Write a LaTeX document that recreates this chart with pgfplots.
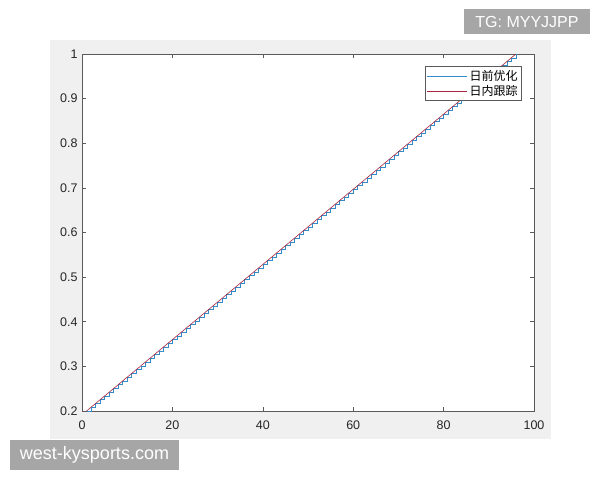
\documentclass[border=0pt]{standalone}
\usepackage{pgfplots}
\usepackage{pgfplotstable}
\pgfplotsset{compat=1.18}
\usepackage{fontspec}
\setmainfont{Liberation Sans}
\newfontfamily\cjk{Noto Sans CJK SC}
\definecolor{mblue}{rgb}{0.2,0.55,0.78}
\definecolor{mred}{rgb}{0.66,0.15,0.25}
\definecolor{panel}{RGB}{240,240,240}
\definecolor{wm}{RGB}{166,166,166}
\definecolor{axc}{RGB}{90,90,90}
\definecolor{txt}{RGB}{38,38,38}
\pgfplotstableread{
x y
1 0.2000
2 0.2084
3 0.2168
4 0.2253
5 0.2337
6 0.2421
7 0.2505
8 0.2589
9 0.2674
10 0.2758
11 0.2842
12 0.2926
13 0.3011
14 0.3095
15 0.3179
16 0.3263
17 0.3347
18 0.3432
19 0.3516
20 0.3600
21 0.3684
22 0.3768
23 0.3853
24 0.3937
25 0.4021
26 0.4105
27 0.4189
28 0.4274
29 0.4358
30 0.4442
31 0.4526
32 0.4611
33 0.4695
34 0.4779
35 0.4863
36 0.4947
37 0.5032
38 0.5116
39 0.5200
40 0.5284
41 0.5368
42 0.5453
43 0.5537
44 0.5621
45 0.5705
46 0.5789
47 0.5874
48 0.5958
49 0.6042
50 0.6126
51 0.6211
52 0.6295
53 0.6379
54 0.6463
55 0.6547
56 0.6632
57 0.6716
58 0.6800
59 0.6884
60 0.6968
61 0.7053
62 0.7137
63 0.7221
64 0.7305
65 0.7389
66 0.7474
67 0.7558
68 0.7642
69 0.7726
70 0.7811
71 0.7895
72 0.7979
73 0.8063
74 0.8147
75 0.8232
76 0.8316
77 0.8400
78 0.8484
79 0.8568
80 0.8653
81 0.8737
82 0.8821
83 0.8905
84 0.8989
85 0.9074
86 0.9158
87 0.9242
88 0.9326
89 0.9411
90 0.9495
91 0.9579
92 0.9663
93 0.9747
94 0.9832
95 0.9916
96 1.0000
}\data
\begin{document}
\begin{tikzpicture}
\useasboundingbox (0pt,0pt) rectangle (600pt,480pt);
\fill[white] (0pt,0pt) rectangle (600pt,480pt);
\fill[panel] (50pt,41pt) rectangle (551pt,440pt);
\begin{axis}[
  at={(82pt,69pt)}, anchor=south west,
  width=452pt, height=357pt, scale only axis,
  xmin=0, xmax=100, ymin=0.2, ymax=1,
  xtick={0,20,...,100},
  ytick={0.2,0.3,...,1.0},
  yticklabels={0.2,0.3,0.4,0.5,0.6,0.7,0.8,0.9,1},
  tick align=inside,
  major tick length=4pt,
  axis line style={axc, line width=0.8pt},
  tick style={axc, line width=0.6pt},
  ticklabel style={font=\fontsize{12.5}{14}\selectfont, text=txt},
  /pgf/number format/assume math mode=true,
  xticklabel style={yshift=-6pt},
  yticklabel style={xshift=-1pt},
  axis background/.style={fill=white},
  legend style={at={(rel axis cs:0.973,0.966)}, anchor=north east,
    draw=axc, line width=0.6pt, fill=white,
    font=\cjk\fontsize{12}{13}\selectfont,
    inner sep=2pt, row sep=-1pt},
  legend cell align=left,
  legend image code/.code={\draw[#1] (0pt,0pt) -- (40pt,0pt);},
]
\addplot[mblue, line width=0.45pt, const plot, forget plot] table[x=x,y=y] {\data};
\addplot[mred, line width=0.6pt, forget plot] table[x=x,y=y] {\data};
\addlegendimage{draw=mblue, line width=0.6pt}
\addlegendentry{日前优化}
\addlegendimage{draw=mred, line width=0.6pt}
\addlegendentry{日内跟踪}
\end{axis}
\fill[wm] (464pt,446pt) rectangle (590pt,471pt);
\node[text=white, font=\fontsize{16}{18}\selectfont] at (527pt,458.5pt) {TG: MYYJJPP};
\fill[wm] (10pt,10pt) rectangle (179pt,40pt);
\node[text=white, font=\fontsize{18}{20}\selectfont] at (94.5pt,25pt) {west-kysports.com};
\end{tikzpicture}
\end{document}
